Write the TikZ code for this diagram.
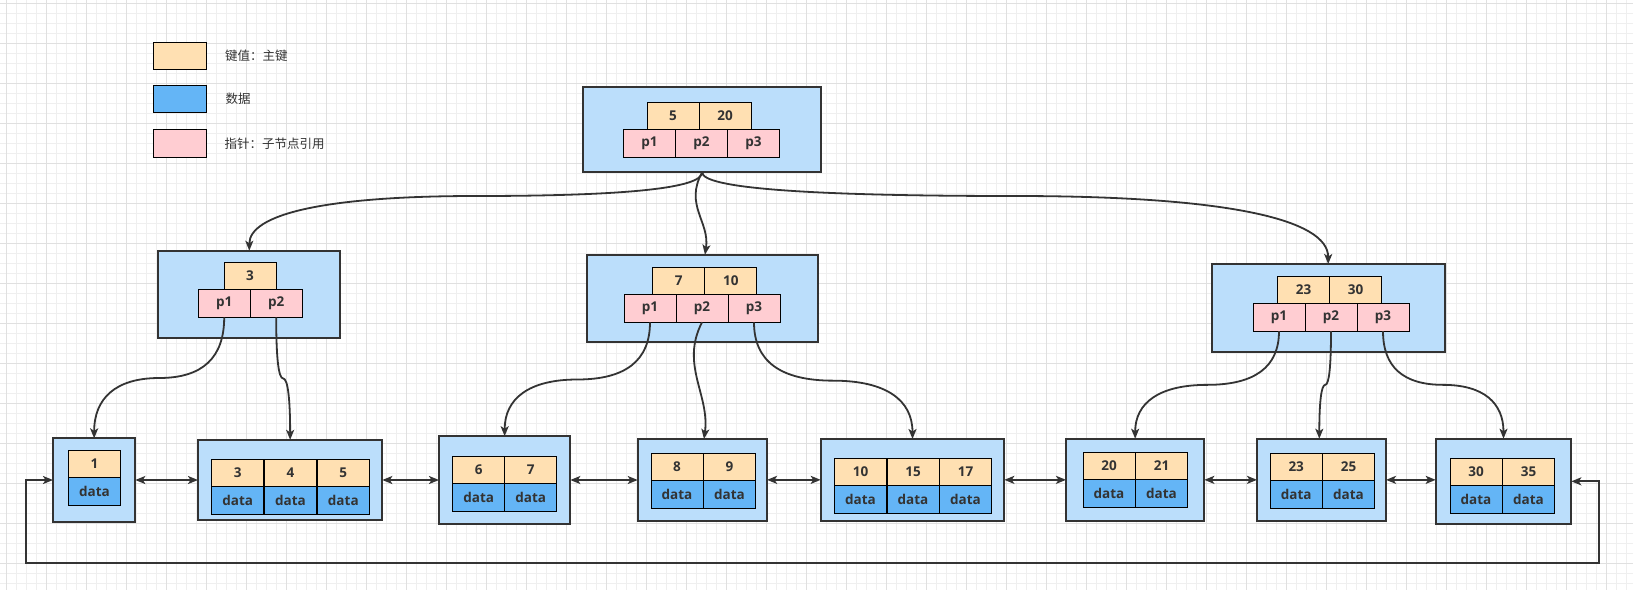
\documentclass[tikz,border=0pt]{standalone}
\usepackage{fontspec}
\setmainfont{Open Sans}
\newfontfamily\cjk{Noto Sans CJK SC}
\usetikzlibrary{arrows.meta}
\definecolor{keyc}{HTML}{FFE0B2}
\definecolor{datac}{HTML}{64B5F6}
\definecolor{ptrc}{HTML}{FFCDD2}
\definecolor{boxc}{HTML}{BBDEFB}
\definecolor{edgec}{HTML}{333333}
\definecolor{txtc}{HTML}{333333}
\definecolor{gridminor}{HTML}{EFEFEF}
\definecolor{gridmajor}{HTML}{E0E0E0}
\tikzset{
  outerbox/.style={draw=edgec, fill=boxc, line width=2pt, inner sep=0pt, outer sep=0pt},
  cellbase/.style={draw=black, line width=1pt, inner sep=0pt, outer sep=0pt, text=txtc,
    font=\bfseries\fontsize{13.5}{16}\selectfont},
  keycell/.style={cellbase, fill=keyc, minimum width=52pt, minimum height=27pt},
  ptrcell/.style={cellbase, fill=ptrc, minimum width=52pt, minimum height=28pt},
  datacell/.style={cellbase, fill=datac, minimum width=52pt, minimum height=28pt},
  legendbox/.style={draw=black, line width=1.3pt, minimum width=53pt, minimum height=27pt, inner sep=0pt},
  legendtext/.style={anchor=west, text=txtc, font=\cjk\fontsize{12.5}{15}\selectfont, inner sep=0pt},
  tip/.tip={Stealth[length=10pt,width=8pt,inset=2.5pt]},
  treelink/.style={draw=edgec, line width=1.8pt, -tip},
  leaflink/.style={draw=edgec, line width=1.8pt, tip-tip},
}
\begin{document}
\begin{tikzpicture}[x=1pt,y=-1pt]
\useasboundingbox (0,0) rectangle (1633,590);
\fill[white] (0,0) rectangle (1633,590);
% background grid
\foreach \i in {0,...,163} {
  \draw[gridminor, line width=0.8pt] ({\i*10+6},0) -- ({\i*10+6},590);
}
\foreach \j in {0,...,59} {
  \draw[gridminor, line width=0.8pt] (0,{\j*10+3}) -- (1633,{\j*10+3});
}
\foreach \i in {0,...,40} {
  \draw[gridmajor, line width=0.8pt] ({\i*40+6},0) -- ({\i*40+6},590);
}
\foreach \j in {0,...,14} {
  \draw[gridmajor, line width=0.8pt] (0,{\j*40+3}) -- (1633,{\j*40+3});
}

% legend
\node[legendbox, fill=keyc] (lg1) at (180,55.8) {};
\node[legendtext] (lt1) at (225,55.5) {键值：主键};
\node[legendbox, fill=datac] (lg2) at (180,98.8) {};
\node[legendtext] (lt2) at (225.5,99) {数据};
\node[legendbox, fill=ptrc, minimum height=28pt] (lg3) at (180,143.3) {};
\node[legendtext] (lt3) at (224.3,144) {指针：子节点引用};

% root
\node[outerbox, minimum width=237.7pt, minimum height=85.6pt] (root) at (702.15,129.5) {};
\node[keycell] (rk1) at (673,115.6) {5};
\node[keycell] (rk2) at (725,115.6) {20};
\node[ptrcell] (rp1) at (649.5,143.2) {p1};
\node[ptrcell] (rp2) at (701.5,143.2) {p2};
\node[ptrcell] (rp3) at (753.5,143.2) {p3};

% internal A
\node[outerbox, minimum width=182pt, minimum height=87.6pt] (A) at (249.3,294.5) {};
\node[keycell] (ak1) at (250,275.8) {3};
\node[ptrcell] (ap1) at (224.2,303.3) {p1};
\node[ptrcell] (ap2) at (276.2,303.3) {p2};

% internal B
\node[outerbox, minimum width=231.3pt, minimum height=87.6pt] (B) at (702.65,298.5) {};
\node[keycell] (bk1) at (678.8,280.8) {7};
\node[keycell] (bk2) at (730.8,280.8) {10};
\node[ptrcell] (bp1) at (650,308.3) {p1};
\node[ptrcell] (bp2) at (702,308.3) {p2};
\node[ptrcell] (bp3) at (754,308.3) {p3};

% internal C
\node[outerbox, minimum width=233pt, minimum height=87.7pt] (C) at (1328.2,307.85) {};
\node[keycell] (ck1) at (1303.5,289.65) {23};
\node[keycell] (ck2) at (1355.5,289.65) {30};
\node[ptrcell] (cp1) at (1279,317.15) {p1};
\node[ptrcell] (cp2) at (1331,317.15) {p2};
\node[ptrcell] (cp3) at (1383,317.15) {p3};

% leaves
\node[outerbox, minimum width=82.3pt, minimum height=83.3pt] (L1) at (94.15,480) {};
\node[keycell] (l1k1) at (94.5,463.8) {1};
\node[datacell] (l1d1) at (94.5,491.3) {data};

\node[outerbox, minimum width=184.3pt, minimum height=80.3pt] (L2) at (290.15,480) {};
\node[keycell] (l2k1) at (237.7,472.8) {3};
\node[keycell] (l2k2) at (290.5,472.8) {4};
\node[keycell] (l2k3) at (343.3,472.8) {5};
\node[datacell] (l2d1) at (237.7,500.3) {data};
\node[datacell] (l2d2) at (290.5,500.3) {data};
\node[datacell] (l2d3) at (343.3,500.3) {data};

\node[outerbox, minimum width=131.3pt, minimum height=87.6pt] (L3) at (504.65,480) {};
\node[keycell] (l3k1) at (478.7,469.8) {6};
\node[keycell] (l3k2) at (530.7,469.8) {7};
\node[datacell] (l3d1) at (478.7,497.3) {data};
\node[datacell] (l3d2) at (530.7,497.3) {data};

\node[outerbox, minimum width=129.3pt, minimum height=81.7pt] (L4) at (702.4,479.85) {};
\node[keycell] (l4k1) at (677,466.8) {8};
\node[keycell] (l4k2) at (729.5,466.8) {9};
\node[datacell] (l4d1) at (677,494.3) {data};
\node[datacell] (l4d2) at (729.5,494.3) {data};

\node[outerbox, minimum width=183.6pt, minimum height=81.7pt] (L5) at (912.5,479.85) {};
\node[keycell] (l5k1) at (860.5,471.8) {10};
\node[keycell] (l5k2) at (913,471.8) {15};
\node[keycell] (l5k3) at (965.5,471.8) {17};
\node[datacell] (l5d1) at (860.5,499.3) {data};
\node[datacell] (l5d2) at (913,499.3) {data};
\node[datacell] (l5d3) at (965.5,499.3) {data};

\node[outerbox, minimum width=138.3pt, minimum height=82.3pt] (L6) at (1135.15,479.85) {};
\node[keycell] (l6k1) at (1109,466) {20};
\node[keycell] (l6k2) at (1161.5,466) {21};
\node[datacell] (l6d1) at (1109,493.5) {data};
\node[datacell] (l6d2) at (1161.5,493.5) {data};

\node[outerbox, minimum width=129pt, minimum height=82.3pt] (L7) at (1321.5,479.85) {};
\node[keycell] (l7k1) at (1296.2,467) {23};
\node[keycell] (l7k2) at (1348.5,467) {25};
\node[datacell] (l7d1) at (1296.2,494.5) {data};
\node[datacell] (l7d2) at (1348.5,494.5) {data};

\node[outerbox, minimum width=135.6pt, minimum height=85.3pt] (L8) at (1503.5,481.35) {};
\node[keycell] (l8k1) at (1476,471.8) {30};
\node[keycell] (l8k2) at (1528.5,471.8) {35};
\node[datacell] (l8d1) at (1476,499.3) {data};
\node[datacell] (l8d2) at (1528.5,499.3) {data};

% tree edges (root level)
\draw[treelink] (root.south) .. controls (702.15,188.1) and (626.65,196) .. (475.7,196)
  .. controls (324.75,196) and (249.3,214.2) .. (A.north);
\draw[treelink] (root.south) .. controls (684,205) and (710,222) .. ([xshift=2.3pt]B.north);
\draw[treelink] (root.south) .. controls (702.15,188.1) and (806.5,196) .. (1015.2,196)
  .. controls (1223.9,196) and (1328.2,218.7) .. (C.north);

% tree edges (to leaves)
\draw[treelink] (ap1.south) .. controls (224.2,357.8) and (202.5,378) .. (159.2,378)
  .. controls (115.8,378) and (94.15,398.2) .. (L1.north);
\draw[treelink] (ap2.south) .. controls (276.2,357.8) and (278.5,378.5) .. (283.2,378.5)
  .. controls (287.8,378.5) and (290.15,398.9) .. (L2.north);
\draw[treelink] (bp1.south) .. controls (650,360.4) and (625.8,379.5) .. (577.3,379.5)
  .. controls (528.9,379.5) and (504.65,398.6) .. (L3.north);
\draw[treelink] (bp2.south) .. controls (680,365) and (710,395) .. ([xshift=1.6pt]L4.north);
\draw[treelink] (bp3.south) .. controls (754,361.2) and (780.4,380.65) .. (833.25,380.65)
  .. controls (886.1,380.65) and (912.5,400.1) .. (L5.north);
\draw[treelink] (cp1.south) .. controls (1279,366.9) and (1255,384.85) .. (1207.1,384.85)
  .. controls (1159.1,384.85) and (1135.15,402.8) .. (L6.north);
\draw[treelink] (cp2.south) .. controls (1331,366.9) and (1329.05,384.85) .. (1325.15,384.85)
  .. controls (1321.25,384.85) and (1319.3,402.8) .. ([xshift=-2.2pt]L7.north);
\draw[treelink] (cp3.south) .. controls (1383,366.9) and (1403.1,384.85) .. (1443.25,384.85)
  .. controls (1483.4,384.85) and (1503.5,402.8) .. (L8.north);

% leaf links
\draw[leaflink] (L1.east) -- (L1.east -| L2.west);
\draw[leaflink] (L2.east) -- (L2.east -| L3.west);
\draw[leaflink] (L3.east) -- (L3.east -| L4.west);
\draw[leaflink] (L4.east) -- (L4.east -| L5.west);
\draw[leaflink] (L5.east) -- (L5.east -| L6.west);
\draw[leaflink] (L6.east) -- (L6.east -| L7.west);
\draw[leaflink] (L7.east) -- (L7.east -| L8.west);

% return link
\coordinate (retL) at (26,563);
\coordinate (retR) at (1598.7,563);
\draw[leaflink] (L1.west) -- (retL |- L1.west) -- (retL) -- (retR) -- (retR |- L8.east) -- (L8.east);
\end{tikzpicture}
\end{document}
